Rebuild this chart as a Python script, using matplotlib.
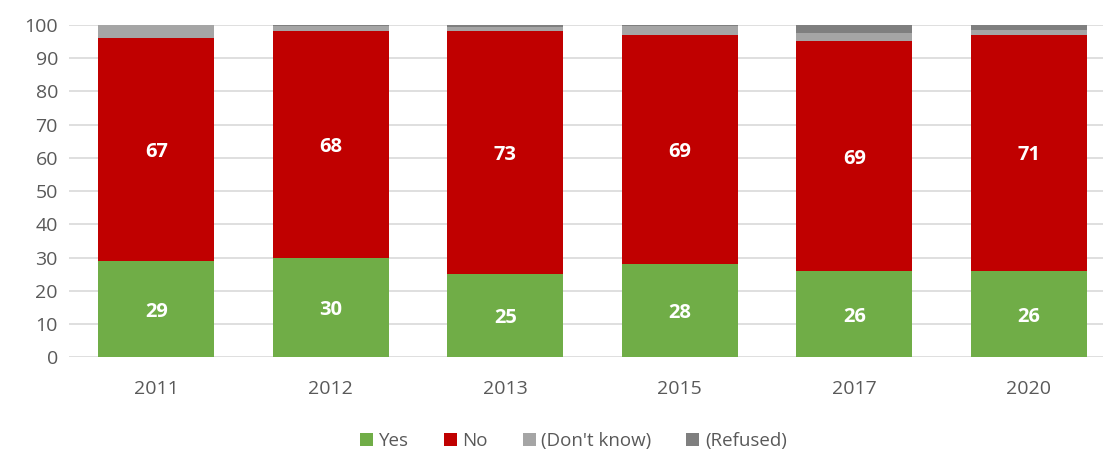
import matplotlib
matplotlib.use("Agg")
import matplotlib.pyplot as plt
import numpy as np

years = ["2011", "2012", "2013", "2015", "2017", "2020"]
yes = [29, 30, 25, 28, 26, 26]
no = [67, 68, 73, 69, 69, 71]
dont_know = [4.0, 1.6, 1.3, 2.5, 2.5, 1.5]
refused = [0.0, 0.4, 0.7, 0.5, 2.5, 1.5]

series = [
    ("Yes", yes, "#70AD47"),
    ("No", no, "#C00000"),
    ("(Don't know)", dont_know, "#A5A5A5"),
    ("(Refused)", refused, "#7F7F7F"),
]

plt.rcParams["font.family"] = ["Open Sans", "DejaVu Sans"]

fig = plt.figure(figsize=(11.03, 4.5), dpi=100)
ax = fig.add_axes([69 / 1103, 0.206, (1116 - 69) / 1103, 0.739])

x = np.arange(len(years))
bottom = np.zeros(len(years))
for name, vals, color in series:
    vals = np.array(vals, dtype=float)
    ax.bar(x, vals, width=0.665, bottom=bottom, color=color,
           label=name, zorder=3)
    if name in ("Yes", "No"):
        for xi, b, v in zip(x, bottom, vals):
            ax.text(xi, b + v / 2, f"{v:.0f}", ha="center", va="center_baseline",
                    color="white", fontsize=14.5, fontweight="bold", zorder=4)
    bottom += vals

ax.set_xlim(-0.5, len(years) - 0.5)
ax.set_ylim(0, 100)
ax.set_yticks(range(0, 101, 10))
ax.set_xticks(x)
ax.set_xticklabels(years)
ax.grid(axis="y", color="#D9D9D9", linewidth=1.2, zorder=0)
for s in ax.spines.values():
    s.set_visible(False)
ax.tick_params(axis="both", length=0, labelsize=14, colors="#595959")
ax.tick_params(axis="x", pad=16)
ax.tick_params(axis="y", pad=8)

fig.legend(loc="lower center", bbox_to_anchor=(0.52, -0.038), ncol=4,
           frameon=False, fontsize=13.5, handlelength=0.7, handleheight=0.7,
           handletextpad=0.3, columnspacing=1.85, labelcolor="#595959")

fig.savefig("out.png", dpi=100)
